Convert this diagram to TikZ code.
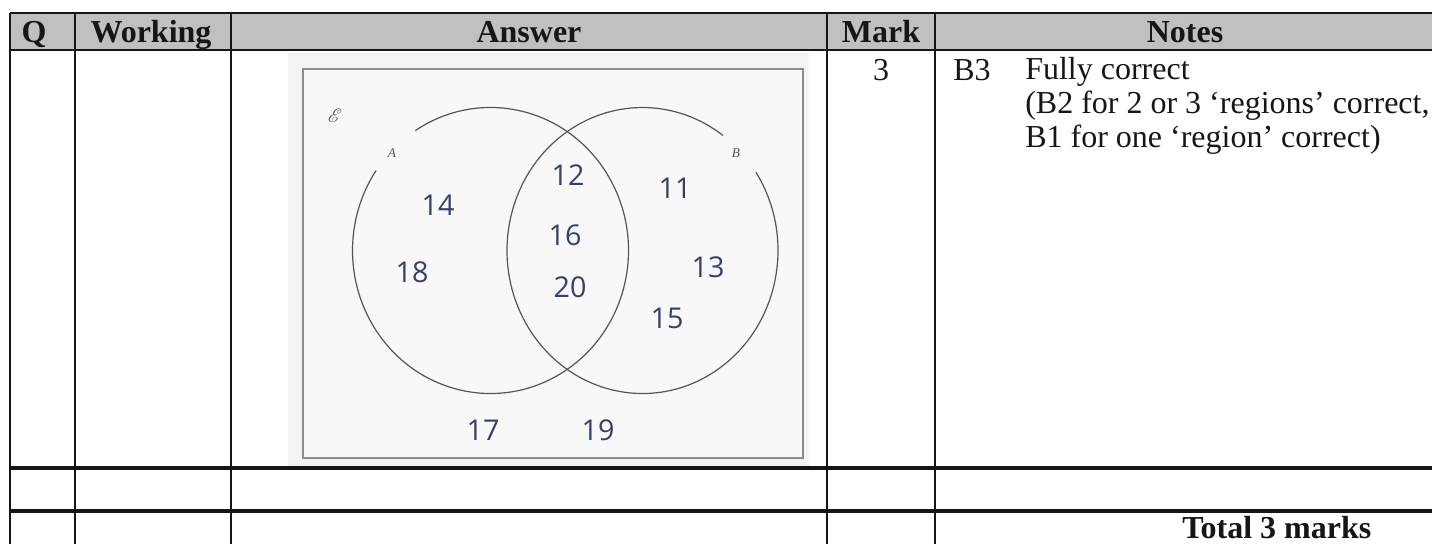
\documentclass[tikz,border=0pt]{standalone}
\usepackage{fontspec}
\usepackage{mathrsfs}
\setmainfont{Liberation Serif}
\newfontfamily\handfont{Open Sans}
\definecolor{ink}{HTML}{161616}
\definecolor{headgray}{HTML}{C0C0C0}
\definecolor{paper}{HTML}{F3F3F3}
\definecolor{sheet}{HTML}{F8F8F8}
\definecolor{frame}{HTML}{8C8C8C}
\definecolor{pencil}{HTML}{555555}
\definecolor{pen}{HTML}{34406F}
\newcommand{\txt}{\fontsize{24}{25.5}\selectfont}
\newcommand{\hand}{\handfont\fontsize{21.5}{21.5}\selectfont}

\begin{document}
\begin{tikzpicture}[x=0.75pt, y=-0.75pt, line cap=butt,
  head/.style={anchor=base, inner sep=0, font=\txt\bfseries, ink},
  cell/.style={anchor=base west, inner sep=0, font=\txt, ink},
  hand/.style={anchor=center, inner sep=0, font=\hand, pen},
  venn/.style={pencil, line width=.9pt},
  rulel/.style={ink, line width=1.3pt},
  ruled/.style={ink, line width=2.6pt}]
\useasboundingbox (0,0) rectangle (1432,544);

% ================= table =================
\fill[headgray] (10,13) rectangle (1432,50);
\draw[rulel] (10,13) -- (1432,13);
\draw[rulel] (10,50) -- (1432,50);
\draw[ruled] (10,468) -- (1432,468);
\draw[ruled] (10,511) -- (1432,511);
\foreach \cx in {10,75,231,827,935}
  \draw[rulel] (\cx,13) -- (\cx,544);

% header row
\node[head] (hQ)    at (34,42)   {Q};
\node[head] (hWork) at (151,42)  {Working};
\node[head] (hAns)  at (529,42)  {Answer};
\node[head] (hMark) at (881,42)  {Mark};
\node[head] (hNote) at (1185,42) {Notes};

% marks and notes
\node[cell, anchor=base] (mark) at (881,80) {3};
\node[cell] (code)   at (953,80)   {B3};
\node[cell] (note1)  at (1025,79)  {Fully correct};
\node[cell] (note2)  at (1025,113) {(B2 for 2 or 3 ‘regions’ correct,};
\node[cell] (note3)  at (1025,147) {B1 for one ‘region’ correct)};
\node[cell, font=\txt\bfseries] (total) at (1182,538) {Total 3 marks};

% ================= scanned answer =================
\fill[paper] (288,53) rectangle (809,466);
\draw[frame, line width=1.1pt, fill=sheet] (303,69) rectangle (803,458);

\coordinate (cA) at (490.5,250.5);
\coordinate (cB) at (642.5,250.5);
% circles left open where the labels sit
\draw[venn] (cA) ++(-123:138 and 143) arc[start angle=-123, end angle=214, x radius=138, y radius=143];
\draw[venn] (cB) ++(-33.2:135.5 and 143) arc[start angle=-33.2, end angle=306.4, x radius=135.5, y radius=143];

\node[inner sep=0, pencil, font=\fontsize{14}{14}\selectfont] (univ) at (335,116) {$\mathscr{E}$};
\node[inner sep=0, pencil, font=\fontsize{10}{10}\selectfont\itshape] (labA) at (392,153) {A};
\node[inner sep=0, pencil, font=\fontsize{10}{10}\selectfont\itshape] (labB) at (736,153) {B};

% handwritten entries
\foreach \n/\x/\y in {14/438/205, 18/412/272, 12/568/175, 16/565/235, 20/570/287,
                      11/675/188, 13/708/267, 15/667/318, 17/483/430, 19/598/430}
  \node[hand] (n\n) at (\x,\y) {\n};

\end{tikzpicture}
\end{document}
